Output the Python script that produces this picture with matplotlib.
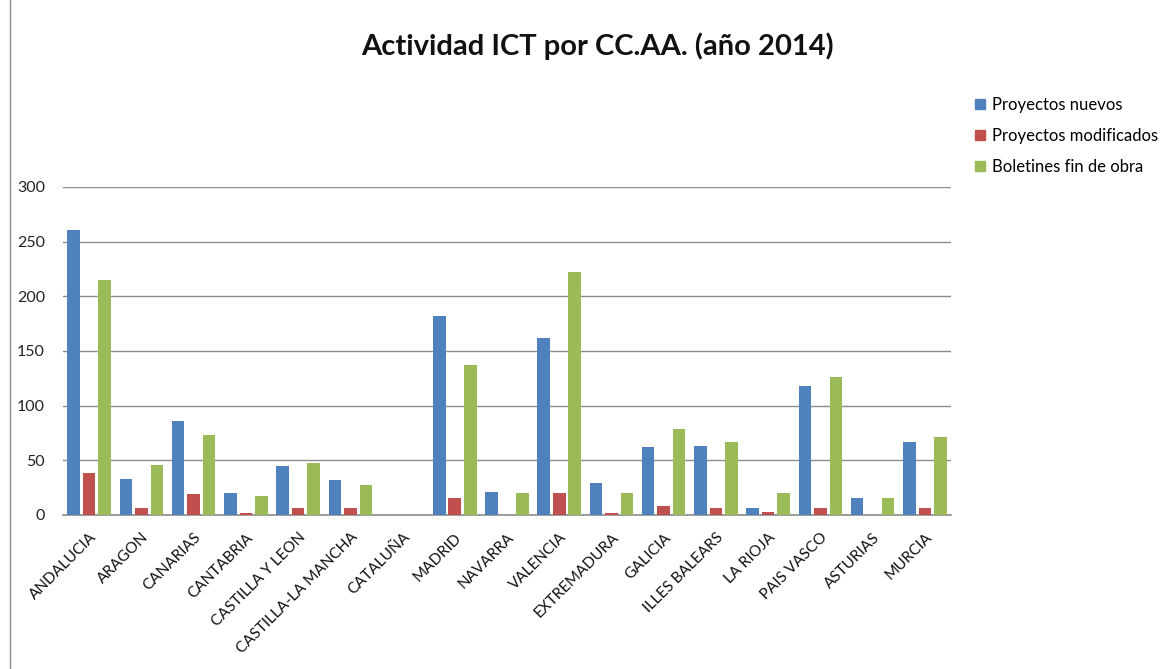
import matplotlib
matplotlib.use("Agg")
import matplotlib.pyplot as plt
import numpy as np
from matplotlib.lines import Line2D

categories = ["ANDALUCIA", "ARAGON", "CANARIAS", "CANTABRIA", "CASTILLA Y LEON",
              "CASTILLA-LA MANCHA", "CATALUÑA", "MADRID", "NAVARRA", "VALENCIA",
              "EXTREMADURA", "GALICIA", "ILLES BALEARS", "LA RIOJA", "PAIS VASCO",
              "ASTURIAS", "MURCIA"]
proyectos_nuevos = [261, 33, 86, 20, 45, 32, 0, 182, 21, 162, 29, 62, 63, 6, 118, 16, 67]
proyectos_modificados = [38, 6, 19, 1.5, 6, 6, 0, 16, 0, 20, 1.5, 8, 6, 2.5, 6, 0, 6]
boletines = [215, 46, 73, 17, 48, 27, 0, 137, 20, 222, 20, 79, 67, 20, 126, 16, 71]
series_names = ["Proyectos nuevos", "Proyectos modificados", "Boletines fin de obra"]
colors = ["#4F81BD", "#C0504D", "#9BBB59"]
yticks = [0, 50, 100, 150, 200, 250, 300]

plt.rcParams['font.family'] = ['Lato', 'DejaVu Sans']

fig = plt.figure(figsize=(11.69, 6.69), dpi=100)
ax = fig.add_axes([63/1169, 1-515/669, (951-63)/1169, (515-187)/669])

x = np.arange(len(categories))
w = 0.24
off = 0.297
for i, (vals, c) in enumerate(zip([proyectos_nuevos, proyectos_modificados, boletines], colors)):
    ax.bar(x + (i-1)*off, vals, width=w, color=c, edgecolor='none', zorder=3)

ax.set_xlim(-0.5, len(categories)-0.5)
ax.set_ylim(0, 300)
ax.set_yticks(yticks)
ax.set_yticklabels([str(v) for v in yticks], fontsize=11.5, color='#222222')
ax.yaxis.grid(True, color='#8c8c8c', linewidth=1.0, zorder=0)
ax.tick_params(axis='y', length=0, pad=13)
ax.tick_params(axis='x', length=0, pad=11)
ax.set_xticks(x)
ax.set_xticklabels(categories, rotation=45, ha='right', rotation_mode='anchor',
                   fontsize=11, color='#111111')
for s in ['top', 'right', 'left']:
    ax.spines[s].set_visible(False)
ax.spines['bottom'].set_color('#8c8c8c')
ax.spines['bottom'].set_linewidth(1.2)

fig.text(597/1169, 1-46/669, "Actividad ICT por CC.AA. (año 2014)", ha='center', va='center',
         fontsize=21, fontweight='bold', color='#111111')

handles = [Line2D([0], [0], marker='s', linestyle='none', markersize=7,
                  markerfacecolor=c, markeredgecolor=c) for c in colors]
fig.legend(handles, series_names, loc='upper left', bbox_to_anchor=(957/1169, 1-82/669),
           frameon=False, fontsize=12, handletextpad=0.2, labelspacing=0.9,
           handlelength=1.0)

fig.add_artist(Line2D([10/1169, 10/1169], [0, 1], transform=fig.transFigure,
                      color='#8c8c8c', linewidth=1))

fig.savefig("out.png", dpi=100)
